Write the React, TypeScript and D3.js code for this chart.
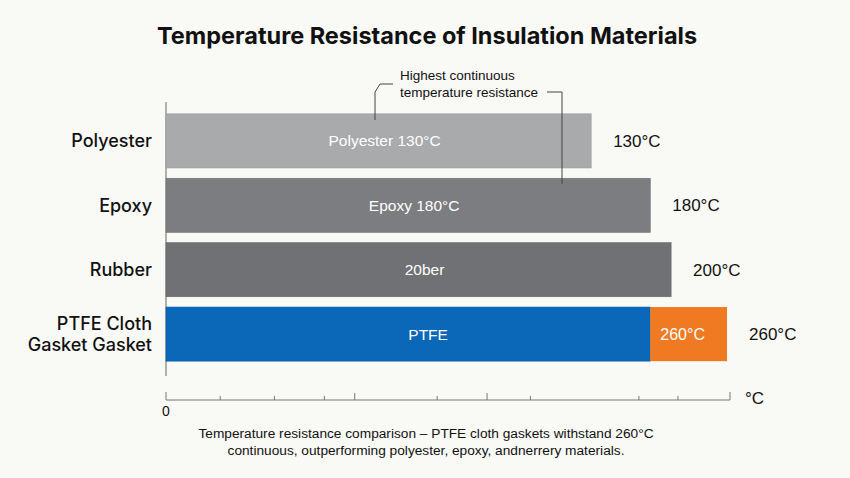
import React from "react";
import * as d3 from "d3";

// Materials and their highest continuous operating temperature (°C)
const materials = ["Polyester", "Epoxy", "Rubber", "PTFE"];
const categoryLines = [["Polyester"], ["Epoxy"], ["Rubber"], ["PTFE Cloth", "Gasket Gasket"]];
const tempValues = [130, 180, 200, 260];
const innerLabels = ["Polyester 130°C", "Epoxy 180°C", "20ber", "PTFE"];
const valueLabels = ["130°C", "180°C", "200°C", "260°C"];
const barColors = ["#a8aaac", "#7b7d80", "#6f7174", "#0b67b7"];
// PTFE bar: blue up to the epoxy level, orange for the margin beyond it
const ptfeSplit = 180;
const highlightColor = "#f07a21";
const axisMinorTicks = [0, 25, 50, 73, 125, 168, 218, 236, 260];
const axisMajorTicks = [87, 148];

const W = 850;
const H = 478;
const x0 = 166;
const x1 = 727;

export default function App() {
  const x = d3.scalePow().exponent(0.4).domain([0, 260]).range([x0, x1]);
  const axisScale = d3.scaleLinear().domain([0, 260]).range([x0, 730]);
  const y = d3.scaleBand().domain(materials).range([110, 365]).paddingInner(0.16).paddingOuter(0.06);
  const bh = y.bandwidth();
  const axisY = 400;
  const font = "'Liberation Sans', Arial, sans-serif";

  return (
    <svg
      width={W}
      height={H}
      viewBox={`0 0 ${W} ${H}`}
      style={{ position: "absolute", left: 0, top: 0, display: "block" }}
      fontFamily={font}
    >
      <rect width={W} height={H} fill="#f9f9f6" />
      <text x={427} y={44} textAnchor="middle" fontFamily="Inter, sans-serif" fontWeight={700} fontSize={23.5} fill="#111">
        Temperature Resistance of Insulation Materials
      </text>

      {/* vertical baseline */}
      <line x1={x0} x2={x0} y1={102} y2={376} stroke="#666" strokeWidth={1} />

      {materials.map((m, i) => {
        const yy = y(m)!;
        const v = tempValues[i];
        const isPtfe = m === "PTFE";
        const end = x(v);
        const split = isPtfe ? x(ptfeSplit) : end;
        const cy = yy + bh / 2;
        const lines = categoryLines[i];
        return (
          <g key={m}>
            <rect x={x0} y={yy} width={split - x0} height={bh} fill={barColors[i]} stroke={d3.color(barColors[i])!.darker(0.3).toString()} strokeWidth={0.6} />
            {isPtfe && (
              <rect x={split} y={yy} width={end - split} height={bh} fill={highlightColor} />
            )}
            <text
              x={isPtfe ? (x0 + split) / 2 + 20 : (x0 + end) / 2 + 6}
              y={cy}
              dy="0.35em"
              textAnchor="middle"
              fill="#fff"
              fontSize={15.5}
            >
              {innerLabels[i]}
            </text>
            {isPtfe && (
              <text x={(split + end) / 2 - 6} y={cy} dy="0.35em" textAnchor="middle" fill="#fff" fontSize={16}>
                {valueLabels[i]}
              </text>
            )}
            <text x={end + 22} y={cy} dy="0.35em" fill="#111" fontSize={17}>
              {valueLabels[i]}
            </text>
            {lines.map((t, j) => (
              <text
                key={t}
                x={152}
                y={cy + (j - (lines.length - 1) / 2) * 21}
                dy="0.35em"
                textAnchor="end"
                fontFamily="Inter, sans-serif"
                fontWeight={500}
                fontSize={18}
                fill="#111"
              >
                {t}
              </text>
            ))}
          </g>
        );
      })}

      {/* annotation with leader lines */}
      <text x={400} y={80} fontSize={13.5} fill="#111">Highest continuous</text>
      <text x={400} y={97} fontSize={13.5} fill="#111">temperature resistance</text>
      <path d="M375,120 V92 L380,84 H393" fill="none" stroke="#444" strokeWidth={1} />
      <path d="M547,92 H562 V184" fill="none" stroke="#444" strokeWidth={1} />

      {/* bottom axis */}
      <line x1={axisScale(0)} x2={axisScale(260)} y1={axisY} y2={axisY} stroke="#777" strokeWidth={1} />
      {axisMinorTicks.map((t) => (
        <line key={`m${t}`} x1={axisScale(t)} x2={axisScale(t)} y1={axisY} y2={axisY - (t === 0 || t === 260 ? 8 : 4)} stroke="#777" strokeWidth={1} />
      ))}
      {axisMajorTicks.map((t) => (
        <line key={`M${t}`} x1={axisScale(t)} x2={axisScale(t)} y1={axisY} y2={axisY - 7} stroke="#777" strokeWidth={1} />
      ))}
      <text x={axisScale(0)} y={416} textAnchor="middle" fontSize={14} fill="#111">0</text>
      <text x={745} y={404} fontSize={17} fill="#111">°C</text>

      <text x={426} y={438} textAnchor="middle" fontSize={13.7} fill="#111">
        Temperature resistance comparison – PTFE cloth gaskets withstand 260°C
      </text>
      <text x={426} y={455} textAnchor="middle" fontSize={13.7} fill="#111">
        continuous, outperforming polyester, epoxy, andnerrery materials.
      </text>
    </svg>
  );
}
